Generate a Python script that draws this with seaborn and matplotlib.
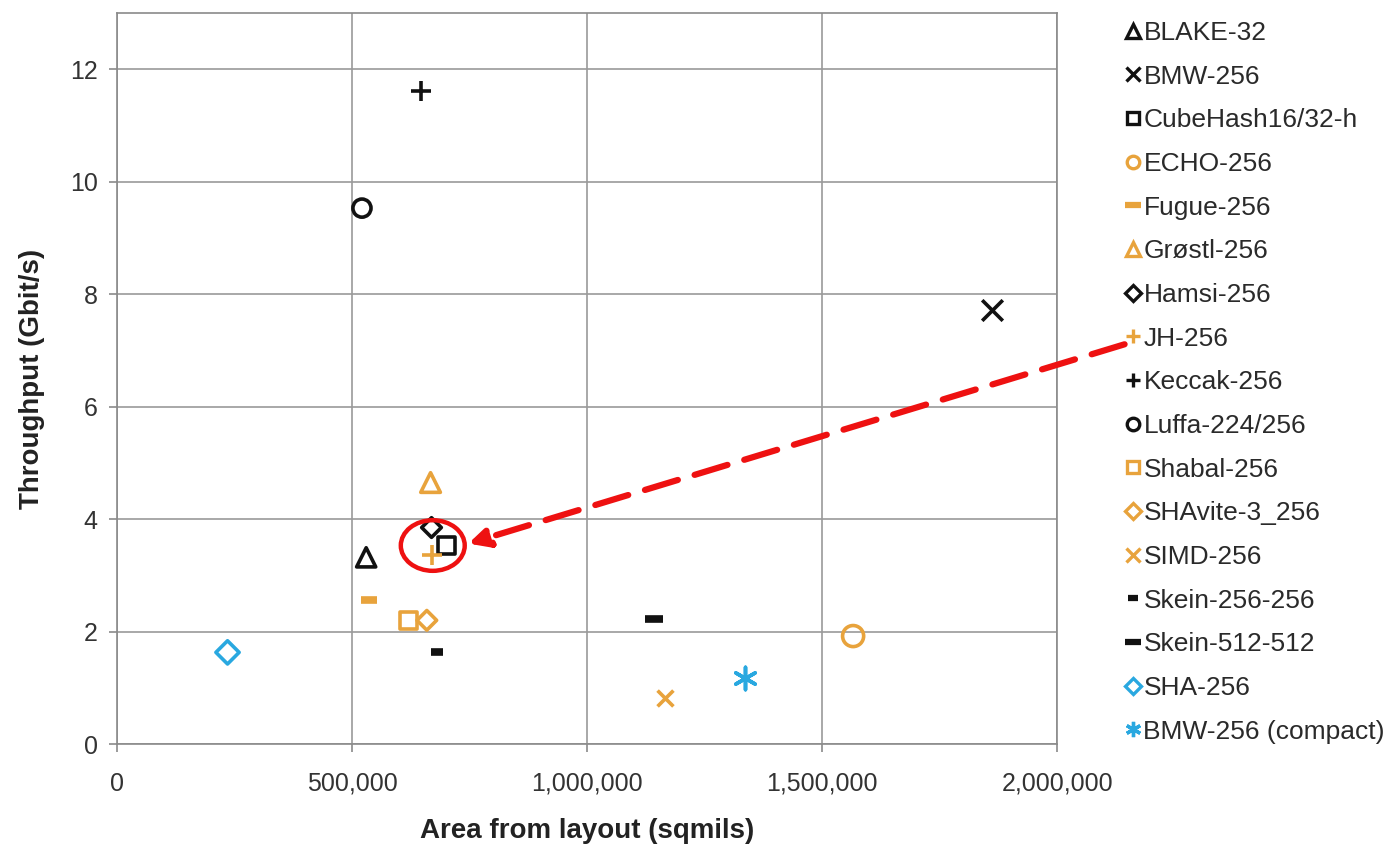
import matplotlib
matplotlib.use("Agg")
import matplotlib.pyplot as plt
from matplotlib.lines import Line2D
from matplotlib.patches import Ellipse
from matplotlib.ticker import FuncFormatter
import numpy as np
import seaborn as sns

names = ["BLAKE-32", "BMW-256", "CubeHash16/32-h", "ECHO-256", "Fugue-256",
         "Grøstl-256", "Hamsi-256", "JH-256", "Keccak-256", "Luffa-224/256",
         "Shabal-256", "SHAvite-3_256", "SIMD-256", "Skein-256-256",
         "Skein-512-512", "SHA-256", "BMW-256 (compact)"]
area = [530000, 1862000, 701000, 1566000, 536000, 667000, 669000, 669000,
        646000, 521000, 621000, 659000, 1165000, 680000, 1142000, 235000, 1337000]
throughput = [3.32, 7.72, 3.53, 1.92, 2.57, 4.65, 3.85, 3.36, 11.61, 9.53,
              2.20, 2.20, 0.82, 1.63, 2.22, 1.63, 1.17]
highlight = ["Hamsi-256", "JH-256", "CubeHash16/32-h"]

BLK = "#111111"
ORG = "#E8A33C"
BLU = "#29A8E0"
# marker, colour, scatter size, legend size, hollow
styles = {
    "BLAKE-32": ("^", BLK, 190, 10, True),
    "BMW-256": ("x", BLK, 220, 10, False),
    "CubeHash16/32-h": ("s", BLK, 150, 9, True),
    "ECHO-256": ("o", ORG, 230, 9, True),
    "Fugue-256": ("_", ORG, 140, 11, False),
    "Grøstl-256": ("^", ORG, 200, 10, True),
    "Hamsi-256": ("D", BLK, 100, 8, True),
    "JH-256": ("+", ORG, 200, 10, False),
    "Keccak-256": ("+", BLK, 200, 10, False),
    "Luffa-224/256": ("o", BLK, 170, 9, True),
    "Shabal-256": ("s", ORG, 150, 9, True),
    "SHAvite-3_256": ("D", ORG, 100, 8, True),
    "SIMD-256": ("x", ORG, 130, 10, False),
    "Skein-256-256": ("_", BLK, 80, 7, False),
    "Skein-512-512": ("_", BLK, 150, 11, False),
    "SHA-256": ("D", BLU, 140, 8, True),
    "BMW-256 (compact)": ((6, 2, 0), BLU, 260, 11, False),
}

sns.set_theme(style="whitegrid")
plt.rcParams["font.family"] = ["Liberation Sans", "DejaVu Sans"]

fig = plt.figure(figsize=(13.97, 8.48), dpi=100)
ax = fig.add_axes([0.0838, 0.1226, 0.6729, 0.8621])

for n, x, y in zip(names, area, throughput):
    m, c, s, _, hollow = styles[n]
    lw = 5.5 if m == "_" else 2.6
    if hollow:
        sns.scatterplot(x=[x], y=[y], marker=m, s=s, facecolor="none",
                        edgecolor=c, linewidth=lw, ax=ax, zorder=3)
    else:
        sns.scatterplot(x=[x], y=[y], marker=m, s=s, color=c,
                        linewidth=lw, ax=ax, zorder=3)

ax.set_xlim(0, 2000000)
ax.set_ylim(0, 13)
ax.set_xticks(np.arange(0, 2000001, 500000))
ax.set_yticks(np.arange(0, 13, 2))
ax.xaxis.set_major_formatter(FuncFormatter(lambda v, p: f"{v:,.0f}"))
ax.grid(True, color="#9a9a9a", linewidth=1.2)
for sp in ax.spines.values():
    sp.set_color("#8a8a8a")
    sp.set_linewidth(1.2)
ax.tick_params(axis="both", labelsize=18, labelcolor="#333333", color="#8a8a8a",
               length=6, width=1.2, direction="out", bottom=True, left=True)
ax.tick_params(axis="x", pad=14)
ax.tick_params(axis="y", pad=8)
ax.set_xlabel("Area from layout (sqmils)", fontsize=20, fontweight="bold",
              color="#222222", labelpad=16)
ax.set_ylabel("Throughput (Gbit/s)", fontsize=20, fontweight="bold",
              color="#222222", labelpad=18)

# red ring round the highlighted points
idx = [names.index(h) for h in highlight]
cx = np.mean([area[i] for i in idx]) - 8000
cy = np.mean([throughput[i] for i in idx]) - 0.05
ax.add_patch(Ellipse((cx, cy), 136000, 0.9, fill=False, edgecolor="#EE1111",
                     linewidth=3.2, zorder=5, clip_on=False))

handles = []
for n in names:
    m, c, _, ms, hollow = styles[n]
    handles.append(Line2D([], [], linestyle="", marker=m, color=c,
                          markersize=ms, markerfacecolor="none" if hollow else c,
                          markeredgewidth=4.5 if m == "_" else 2.4))
leg = fig.legend(handles, names, loc="upper left", bbox_to_anchor=(0.793, 0.997),
                 frameon=False, fontsize=19, handlelength=0.5, handletextpad=0.15,
                 labelspacing=0.745, borderpad=0.2)
for t in leg.get_texts():
    t.set_color("#2a2a2a")

# dashed arrow from the JH-256 legend entry to the ring
ax.annotate("", xy=(cx + 70000, cy + 0.02), xycoords="data",
            xytext=(0.805, 0.594), textcoords="figure fraction",
            arrowprops=dict(arrowstyle="-|>,head_length=1.0,head_width=0.5",
                            color="#EE1111", lw=4.5, linestyle=(0, (5.5, 2.8)),
                            shrinkA=0, shrinkB=2),
            annotation_clip=False, zorder=6)

fig.savefig("out.png", dpi=100)
